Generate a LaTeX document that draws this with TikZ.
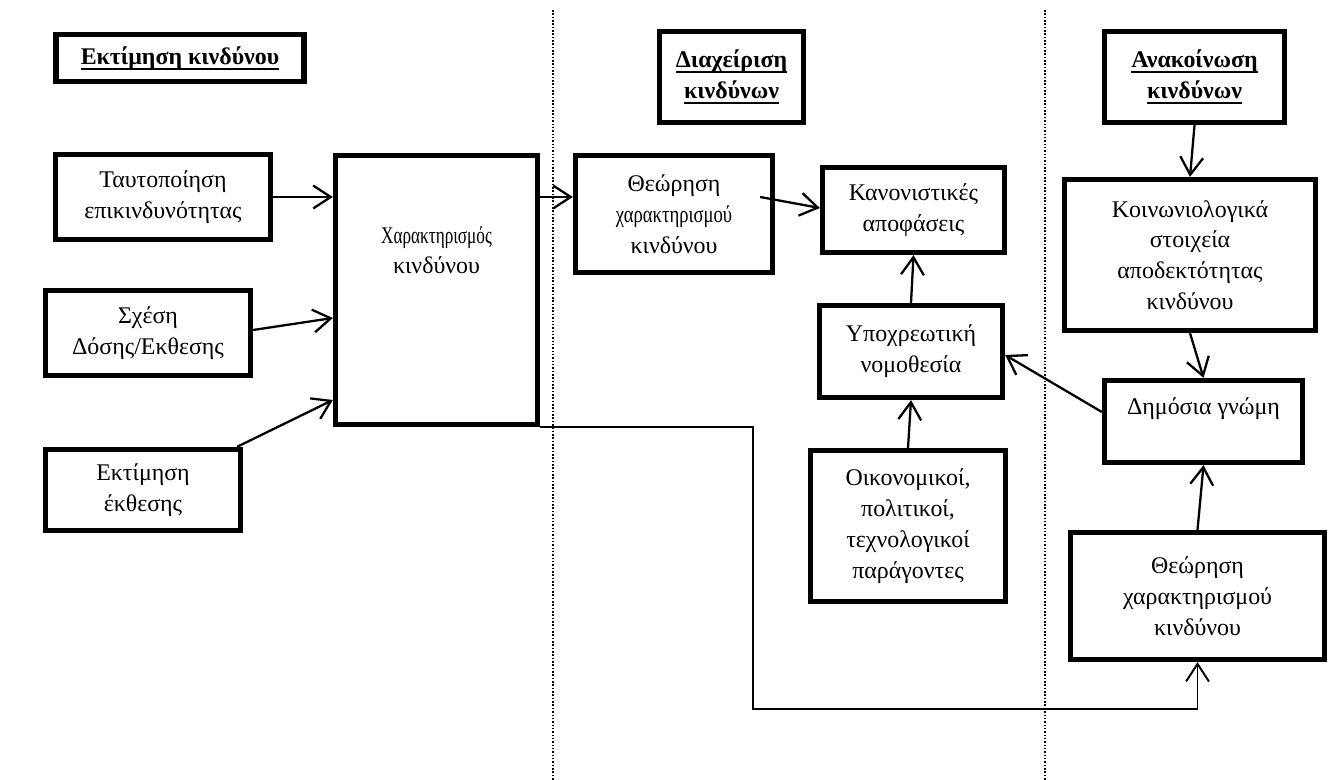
\documentclass[tikz,border=0pt]{standalone}
\usepackage{fontspec}
\setmainfont{Liberation Serif}
\usepackage{graphicx}
\usetikzlibrary{arrows.meta}
\newcommand{\ypogr}[1]{\leavevmode\setbox0\hbox{#1}\dp0=0pt\vtop{\box0\kern2pt\hrule height 1.1pt}}

\begin{document}
\begin{tikzpicture}[
  blok/.style={draw, line width=3pt, fill=white, align=center, inner sep=2pt,
    font=\fontsize{13.6}{17.5}\selectfont},
  kefali/.style={blok, font=\fontsize{13.6}{17.5}\selectfont\bfseries},
  belos/.style={-{Straight Barb[length=10pt,width=13pt]}, line width=1.3pt},
  orio/.style={densely dotted, line width=0.9pt}
]
\useasboundingbox (0,0) rectangle (26.74,-15.6);

\draw[orio] (11.06,-0.2)--(11.06,-15.6);
\draw[orio] (20.9,-0.2)--(20.9,-15.6);

\node[kefali, minimum width=4.96cm, minimum height=0.94cm] (ektimisi) at (3.6,-1.16) {\ypogr{Εκτίμηση κινδύνου}};
\node[kefali, minimum width=2.88cm, minimum height=1.82cm] (diaxeirisi) at (14.63,-1.54) {\ypogr{Διαχείριση}\\\ypogr{κινδύνων}};
\node[kefali, minimum width=3.6cm, minimum height=1.82cm] (anakoinosi) at (23.89,-1.54) {\ypogr{Ανακοίνωση}\\\ypogr{κινδύνων}};

\node[blok, minimum width=4.3cm, minimum height=1.7cm] (taut) at (3.26,-3.94) {Ταυτοποίηση\\επικινδυνότητας};
\node[blok, minimum width=4.1cm, minimum height=1.7cm] (sxesi) at (2.96,-6.66) {Σχέση\\Δόσης/Εκθεσης};
\node[blok, minimum width=3.9cm, minimum height=1.62cm] (ekthesi) at (2.86,-9.8) {Εκτίμηση\\έκθεσης};
\node[blok, minimum width=4.04cm, minimum height=5.38cm] (xarakt) at (8.73,-5.8) {\scalebox{0.72}[1]{Χαρακτηρισμός}\\κινδύνου\\[0.8cm]\strut};

\node[blok, minimum width=3.94cm, minimum height=2.34cm] (theor) at (13.48,-4.28) {Θεώρηση\\\scalebox{0.78}[1]{χαρακτηρισμού}\\κινδύνου};
\node[blok, minimum width=3.64cm, minimum height=1.7cm] (kanon) at (18.27,-4.2) {Κανονιστικές\\αποφάσεις};
\node[blok, minimum width=3.66cm, minimum height=1.84cm] (ypox) at (18.22,-7.03) {Υποχρεωτική\\νομοθεσία};
\node[blok, minimum width=3.9cm, minimum height=3.02cm] (oikon) at (18.16,-10.52) {Οικονομικοί,\\πολιτικοί,\\τεχνολογικοί\\παράγοντες};

\node[blok, minimum width=5.02cm, minimum height=3.02cm] (koin) at (23.8,-5.1) {Κοινωνιολογικά\\στοιχεία\\αποδεκτότητας\\κινδύνου};
\node[blok, minimum width=3.96cm, minimum height=1.64cm] (gnomi) at (24.07,-8.43) {Δημόσια γνώμη\\[-0.2cm]\strut};
\node[blok, minimum width=5.08cm, minimum height=2.54cm] (theor2) at (23.95,-11.92) {Θεώρηση\\χαρακτηρισμού\\κινδύνου};

\coordinate (gonia) at (15.06,-14.18);

\draw[belos] (taut.east) -- (taut.east -| xarakt.west);
\draw[belos] ([yshift=0.06cm]sxesi.east) -- ([yshift=-0.56cm]xarakt.west);
\draw[belos] ([xshift=1.88cm]ekthesi.north) -- ([yshift=-2.2cm]xarakt.west);
\draw[belos] ([yshift=0.34cm]theor.west -| xarakt.east) -- ([yshift=0.34cm]theor.west);
\draw[belos] ([xshift=-0.3cm,yshift=0.34cm]theor.east) -- ([yshift=0.04cm]kanon.west);
\draw[belos] (ypox.north) -- (kanon.south);
\draw[belos] (oikon.north) -- (ypox.south);
\draw[belos] ([yshift=0.19cm]gnomi.west) -- ([yshift=-0.07cm]ypox.east);
\draw[belos] (anakoinosi.south) -- (koin.north);
\draw[belos] (koin.south) -- (gnomi.north);
\draw[belos] (theor2.north) -- (gnomi.south);
\draw[belos, line width=1.1pt] (xarakt.south east) -| (gonia) -| (theor2.south);

\end{tikzpicture}
\end{document}
